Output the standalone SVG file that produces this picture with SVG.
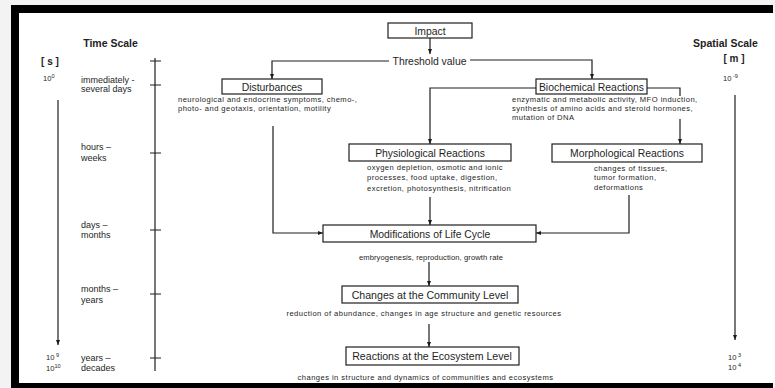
<svg xmlns="http://www.w3.org/2000/svg" width="775" height="388" viewBox="0 0 775 388">
<defs>
<marker id="ah" viewBox="0 0 10 10" refX="10" refY="5" markerWidth="5" markerHeight="5" orient="auto" markerUnits="userSpaceOnUse">
<path d="M0,1 L10,5 L0,9 z" fill="#1a1a1a"/>
</marker>
<style>
text{font-family:"Liberation Sans",Arial,sans-serif;fill:#1e1e1e}
.box{fill:#fff;stroke:#1e1e1e;stroke-width:1.2}
.t{font-size:10.4px;text-anchor:middle}
.d{font-size:7.6px;letter-spacing:0.45px}
.dc{font-size:7.6px;letter-spacing:0.45px;text-anchor:middle}
.h{font-size:10.5px;font-weight:bold;text-anchor:middle}
.s{font-size:9px}
.n{font-size:7.6px}
.ln{fill:none;stroke:#1e1e1e;stroke-width:1.2}
.ar{fill:none;stroke:#1e1e1e;stroke-width:1.2;marker-end:url(#ah)}
</style>
</defs>
<rect x="0" y="0" width="775" height="388" fill="#f3f3f3"/>
<rect x="11" y="5" width="762" height="383" fill="#000"/>
<rect x="19" y="13" width="756" height="370" fill="#fff"/>

<g id="time-scale">
<text class="h" x="110.5" y="47">Time Scale</text>
<text class="h" x="50" y="65" style="font-size:10px">[ s ]</text>
<text class="n" x="43" y="81">10<tspan dy="-3" font-size="5.5">0</tspan></text>
<text class="n" x="46" y="360">10<tspan dy="-3" font-size="5.5"> 9</tspan></text>
<text class="n" x="46" y="371">10<tspan dy="-3" font-size="5.5">10</tspan></text>
<line class="ar" x1="58" y1="100" x2="58" y2="345"/>
<line class="ln" x1="155" y1="58" x2="155" y2="371"/>
<path class="ln" d="M150,61H161M150,85H161M150,153H161M150,230H161M150,294H161M150,358H161"/>
<text class="s" x="81" y="83">immediately -</text>
<text class="s" x="81" y="92">several days</text>
<text class="s" x="81" y="150">hours –</text>
<text class="s" x="81" y="161">weeks</text>
<text class="s" x="81" y="228">days –</text>
<text class="s" x="81" y="238">months</text>
<text class="s" x="81" y="292">months –</text>
<text class="s" x="81" y="303">years</text>
<text class="s" x="81" y="361">years –</text>
<text class="s" x="81" y="371">decades</text>
</g>

<g id="spatial-scale">
<text class="h" x="725.5" y="47">Spatial Scale</text>
<text class="h" x="734" y="62" style="font-size:10px">[ m ]</text>
<text class="n" x="723" y="81">10<tspan dy="-3" font-size="5.5"> -9</tspan></text>
<text class="n" x="728" y="360">10<tspan dy="-3" font-size="5.5"> 3</tspan></text>
<text class="n" x="728" y="370">10<tspan dy="-3" font-size="5.5"> 4</tspan></text>
<line class="ar" x1="735" y1="95" x2="735" y2="340"/>
</g>

<g id="connectors">
<line class="ar" x1="430" y1="38" x2="430" y2="54"/>
<path class="ar" d="M389,61H272V79"/>
<path class="ar" d="M470,60H592V79"/>
<path class="ar" d="M536,88H430V144"/>
<path class="ln" d="M647,88H680V96"/>
<line class="ar" x1="680" y1="119" x2="680" y2="144"/>
<path class="ar" d="M273,126V233H323"/>
<line class="ar" x1="430" y1="197" x2="430" y2="225"/>
<path class="ar" d="M629,195V233H536"/>
<line class="ar" x1="429" y1="262" x2="429" y2="286"/>
<line class="ar" x1="429" y1="324" x2="429" y2="347"/>
</g>

<g id="impact">
<rect class="box" x="388" y="23" width="84" height="15"/>
<text class="t" x="430" y="34.5">Impact</text>
</g>

<g id="threshold">
<text class="t" x="429.5" y="64.5">Threshold value</text>
</g>

<g id="disturbances">
<rect class="box" x="222" y="79" width="100" height="15"/>
<text class="t" x="272" y="90.5">Disturbances</text>
<text class="d" x="178" y="102">neurological and endocrine symptoms, chemo-,</text>
<text class="d" x="178" y="111">photo- and geotaxis, orientation, motility</text>
</g>

<g id="biochemical">
<rect class="box" x="536" y="79" width="111" height="15"/>
<text class="t" x="591.5" y="90.5">Biochemical Reactions</text>
<text class="d" x="512" y="102">enzymatic and metabolic activity, MFO induction,</text>
<text class="d" x="512" y="111">synthesis of amino acids and steroid hormones,</text>
<text class="d" x="512" y="120">mutation of DNA</text>
</g>

<g id="physiological">
<rect class="box" x="349" y="144" width="162" height="17"/>
<text class="t" x="430" y="156.5">Physiological Reactions</text>
<text class="d" x="367" y="170">oxygen depletion, osmotic and ionic</text>
<text class="d" x="367" y="180">processes, food uptake, digestion,</text>
<text class="d" x="367" y="191">excretion, photosynthesis, nitrification</text>
</g>

<g id="morphological">
<rect class="box" x="552" y="144" width="150" height="18"/>
<text class="t" x="627" y="157">Morphological Reactions</text>
<text class="d" x="594" y="170.5">changes of tissues,</text>
<text class="d" x="594" y="180">tumor formation,</text>
<text class="d" x="594" y="190">deformations</text>
</g>

<g id="life-cycle">
<rect class="box" x="323" y="225" width="213" height="17"/>
<text class="t" x="430" y="237.5">Modifications of Life Cycle</text>
<text class="dc" x="431" y="259.5" style="letter-spacing:0.1px">embryogenesis, reproduction, growth rate</text>
</g>

<g id="community">
<rect class="box" x="342" y="286" width="176" height="17"/>
<text class="t" x="430" y="298.5" style="font-size:10.6px">Changes at the Community Level</text>
<text class="dc" x="424" y="316">reduction of abundance, changes in age structure and genetic resources</text>
</g>

<g id="ecosystem">
<rect class="box" x="346" y="347" width="173" height="18"/>
<text class="t" x="432" y="360" style="font-size:10.6px">Reactions at the Ecosystem Level</text>
<text class="dc" x="425.5" y="379.5">changes in structure and dynamics of communities and ecosystems</text>
</g>
</svg>
